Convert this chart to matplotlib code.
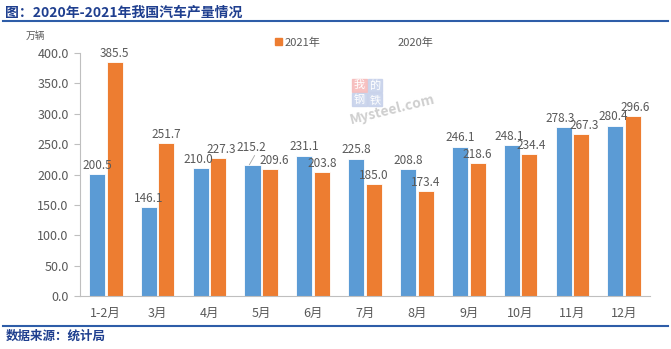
import matplotlib
matplotlib.use("Agg")
import matplotlib.pyplot as plt
import numpy as np
from matplotlib.lines import Line2D
from matplotlib.patches import Patch, Rectangle

plt.rcParams['font.family'] = ['Noto Sans CJK SC', 'DejaVu Sans']

categories = ['1-2月', '3月', '4月', '5月', '6月', '7月', '8月', '9月', '10月', '11月', '12月']
values_2020 = [200.5, 146.1, 210.0, 215.2, 231.1, 225.8, 208.8, 246.1, 248.1, 278.3, 280.4]
values_2021 = [385.5, 251.7, 227.3, 209.6, 203.8, 185.0, 173.4, 218.6, 234.4, 267.3, 296.6]
yticks = [0, 50, 100, 150, 200, 250, 300, 350, 400]

blue = '#5B9BD5'
orange = '#ED7D31'
gray = '#595959'
navy = '#1F3F8F'

fig = plt.figure(figsize=(6.71, 3.49), dpi=100)
ax = fig.add_axes([0.119, 0.152, 0.850, 0.696])
ax.patch.set_visible(False)

x = np.arange(len(categories))
w = 0.31
gap = 0.03
b1 = ax.bar(x - w / 2 - gap / 2, values_2020, width=w, color=blue, edgecolor='white', lw=0.6, zorder=2)
b2 = ax.bar(x + w / 2 + gap / 2, values_2021, width=w, color=orange, edgecolor='white', lw=0.6, zorder=2)

# label placement tweaks (in data units / category units)
blue_dy = [4, 4, 4, 18, 4, 4, 4, 4, 4, 4, 4]
blue_dx = [0, 0, -0.05, -0.02, 0, 0, 0, 0, -0.04, -0.06, -0.04]
orange_dx = [0, 0, 0.05, 0.07, 0, 0, 0, 0, 0.04, 0.06, 0.04]

for i, (rect, v) in enumerate(zip(b1, values_2020)):
    cx = rect.get_x() + rect.get_width() / 2
    ax.text(cx + blue_dx[i], v + blue_dy[i], f'{v:.1f}', ha='center', va='bottom',
            fontsize=8.5, color=gray, zorder=3)
    if blue_dy[i] > 10:
        ax.plot([cx - 0.06, cx + 0.04], [v + 1, v + blue_dy[i] - 2], color='#A6A6A6', lw=0.6, zorder=3)
for i, (rect, v) in enumerate(zip(b2, values_2021)):
    cx = rect.get_x() + rect.get_width() / 2
    ax.text(cx + orange_dx[i], v + 3, f'{v:.1f}', ha='center', va='bottom',
            fontsize=8.5, color=gray, zorder=3)

ax.set_xlim(-0.5, len(categories) - 0.5)
ax.set_ylim(0, 400)
ax.set_yticks(yticks)
ax.set_yticklabels([f'{t:.1f}' for t in yticks], fontsize=9, color=gray)
ax.set_xticks(x)
ax.set_xticklabels(categories, fontsize=9, color=gray)
ax.tick_params(axis='x', length=0, pad=8)
ax.tick_params(axis='y', length=4, direction='out', color='#BFBFBF', pad=4)
for s in ['top', 'right']:
    ax.spines[s].set_visible(False)
ax.spines['left'].set_color('#BFBFBF')
ax.spines['bottom'].set_color('#BFBFBF')

ax.text(-0.095, 1.05, '万辆', transform=ax.transAxes, fontsize=7, color=gray, ha='left', va='bottom')

handles = [Patch(color=orange), Patch(color='none')]
leg = fig.legend(handles, ['2021年', '2020年'], loc='center left', bbox_to_anchor=(0.395, 0.878),
                 ncol=2, frameon=False, fontsize=8, handlelength=0.6, handleheight=0.6,
                 columnspacing=6.0, handletextpad=0.3)
for t in leg.get_texts():
    t.set_color(gray)

# watermark (Mysteel logo)
logo_x, logo_y, s = 0.525, 0.695, 0.041
logo_cols = ['#F6B8B8', '#C5D0EA', '#C5D0EA', '#C5D0EA']
logo_chars = ['我', '的', '钢', '铁']
pos = [(0, 1), (1, 1), (0, 0), (1, 0)]
for (px, py), c, ch in zip(pos, logo_cols, logo_chars):
    fig.add_artist(Rectangle((logo_x + px * s * 0.56, logo_y + py * s), s * 0.53, s * 0.95,
                             transform=fig.transFigure, color=c, alpha=0.85, zorder=1))
    fig.text(logo_x + px * s * 0.56 + s * 0.265, logo_y + py * s + s * 0.47, ch, fontsize=8,
             color='white', ha='center', va='center', zorder=1.5)
fig.text(0.585, 0.685, 'Mysteel.com', fontsize=10, color='#CFCFCF', rotation=14,
         ha='center', va='center', fontweight='bold', zorder=1)

# header and footer
fig.text(0.008, 0.965, '图：2020年-2021年我国汽车产量情况', fontsize=10, fontweight='bold',
         color=navy, ha='left', va='center')
fig.add_artist(Line2D([0.005, 0.995], [0.94, 0.94], color='#2E5DA8', lw=1.5, transform=fig.transFigure))
fig.add_artist(Line2D([0.005, 0.995], [0.066, 0.066], color='#2E5DA8', lw=1.5, transform=fig.transFigure))
fig.text(0.008, 0.038, '数据来源：统计局', fontsize=9, fontweight='bold', color=navy,
         ha='left', va='center')

fig.savefig('out.png', dpi=100)
